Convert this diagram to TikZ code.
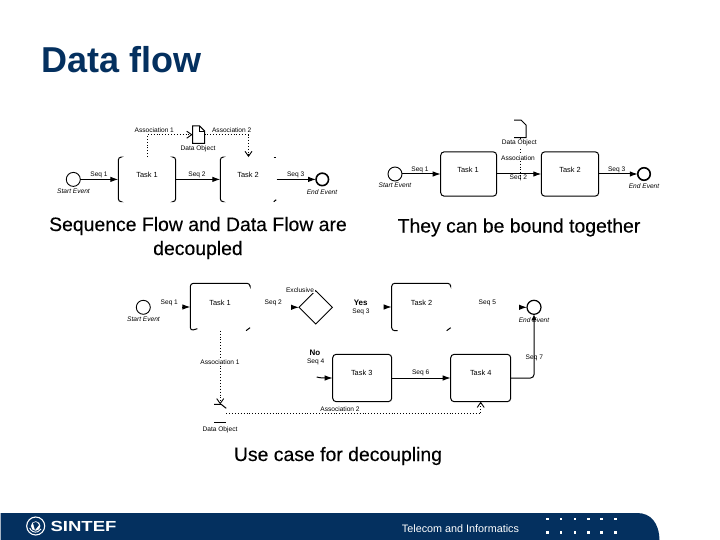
\documentclass[tikz,border=0pt]{standalone}
\usepackage{fontspec}
\setmainfont{Liberation Sans}
\newfontfamily\headfont[FakeBold=0.25]{Liberation Sans}
\usetikzlibrary{arrows.meta,shapes.geometric,calc}
\definecolor{navy}{HTML}{04305F}
\tikzset{
  x=1pt,y=-1pt,
  lbl/.style={inner sep=0,outer sep=0,text=black,font=\fontsize{6.6}{7}\selectfont},
  tasklbl/.style={lbl,font=\fontsize{7.4}{8}\selectfont},
  evlbl/.style={lbl,font=\fontsize{6.6}{7}\selectfont\itshape},
  boldlbl/.style={lbl,font=\fontsize{8}{9}\selectfont\bfseries},
  head/.style={inner sep=0,outer sep=0,text=black,align=center,font=\headfont\fontsize{19.4}{24}\selectfont},
  seqflow/.style={draw=black,line width=1pt,-{Latex[length=8pt,width=5.5pt]}},
  assoc/.style={draw=black,line width=0.9pt,dotted,-{Straight Barb[length=5pt,width=7pt,sep=0pt]}},
  assocplain/.style={draw=black,line width=0.9pt,dotted},
  edgeline/.style={draw=black,line width=1pt,rounded corners=3pt},
  taskfull/.style={draw=black,line width=1pt,rounded corners=3.5pt,inner sep=0,outer sep=0},
  taskghost/.style={inner sep=0,outer sep=0},
  startev/.style={circle,draw=black,line width=0.9pt,minimum size=14pt,inner sep=0,outer sep=0},
  endev/.style={circle,draw=black,line width=1.6pt,minimum size=12.5pt,inner sep=0,outer sep=0},
  dataghost/.style={inner sep=0,outer sep=0,minimum width=12pt,minimum height=17.5pt},
  dot/.style={fill=white,minimum size=2.6pt,inner sep=0,outer sep=0},
}
\begin{document}
\begin{tikzpicture}
\useasboundingbox (0,0) rectangle (720,540);
\fill[white] (0,0) rectangle (720,540);

% Title
\node[inner sep=0,anchor=west,text=navy,font=\fontsize{36}{40}\selectfont\bfseries] (title) at (41,60) {Data flow};

% ---------- Diagram 1 ----------
\node[startev] (as) at (73.3,179.4) {};
\node[taskghost,minimum width=57.4pt,minimum height=44.7pt] (at1) at (147,179.4) {};
\node[taskghost,minimum width=56.4pt,minimum height=44.7pt] (at2) at (248.5,179.4) {};
\node[endev] (ae) at (322.3,179.4) {};
\node[dataghost] (ad) at (198.5,134.7) {};
\draw[edgeline] ([xshift=2.5pt]at1.north west) -- (at1.north west) -- (at1.south west) -- ([xshift=2.5pt]at1.south west);
\draw[edgeline] ([xshift=-2.5pt]at1.north east) -- (at1.north east) -- (at1.south east) -- ([xshift=-2.5pt]at1.south east);
\draw[edgeline] ([xshift=2.5pt]at2.north west) -- (at2.north west) -- (at2.south west) -- ([xshift=2.5pt]at2.south west);
\draw[edgeline] ([xshift=-3pt]at2.north east) -- ([xshift=-.5pt]at2.north east);
\draw[edgeline] ([xshift=-3pt]at2.south east) -- ([xshift=-.5pt,yshift=2pt]at2.south east);
\draw[black,line width=1pt] (ad.north west) -- ([xshift=7pt]ad.north west) -- ([yshift=-5pt]ad.north east) -- (ad.south east) -- (ad.south west) -- cycle;
\draw[black,line width=0.5pt] ([xshift=7pt]ad.north west) -- ([xshift=7pt,yshift=-5pt]ad.north west) -- ([yshift=-5pt]ad.north east);
\draw[seqflow] (as) -- (at1.west);
\draw[seqflow] (at1.east) -- (at2.west);
\draw[seqflow] (at2.east) -- (ae);
\draw[assoc] (at1.north) |- (ad.west);
\draw[assoc] (ad.east) -| (at2.north);
\node[lbl] (al1) at (154.3,130.3) {Association 1};
\node[lbl] (al2) at (231.7,130.3) {Association 2};
\node[lbl] (al3) at (198,148.3) {Data Object};
\node[lbl] (al4) at (99,175) {Seq 1};
\node[tasklbl] (al5) at (147,174.5) {Task 1};
\node[lbl] (al6) at (197,175) {Seq 2};
\node[tasklbl] (al7) at (248,174.5) {Task 2};
\node[lbl] (al8) at (295.7,175) {Seq 3};
\node[evlbl] (al9) at (73.5,191.7) {Start Event};
\node[evlbl] (al10) at (322,191.7) {End Event};
\node[head] (ah) at (198,238) {Sequence Flow and Data Flow are\\decoupled};

% ---------- Diagram 2 ----------
\node[startev] (bs) at (395,174) {};
\node[taskfull,minimum width=56pt,minimum height=44.3pt] (bt1) at (468.7,174) {};
\node[taskfull,minimum width=57.4pt,minimum height=44.3pt] (bt2) at (570,174) {};
\node[endev] (be) at (644,174) {};
\node[dataghost] (bd) at (520,128.8) {};
\draw[black,line width=1pt] (bd.north west) -- ([xshift=7pt]bd.north west) -- ([yshift=-5pt]bd.north east) -- (bd.south east) -- (bd.south west);
\draw[seqflow] (bs) -- (bt1.west);
\draw[seqflow] (bt1.east) -- (bt2.west);
\draw[seqflow] (bt2.east) -- (be);
\coordinate (bc) at (520,180);
\draw[assocplain] (bd.south) -- (bc);
\node[lbl,fill=white,inner sep=.6pt] (bl1) at (519.3,143) {Data Object};
\node[lbl,fill=white,inner sep=.6pt] (bl2) at (518,157.7) {Association};
\node[lbl] (bl3) at (518.3,177.7) {Seq 2};
\node[lbl] (bl4) at (420,170) {Seq 1};
\node[tasklbl] (bl5) at (468,170) {Task 1};
\node[tasklbl] (bl6) at (570,170) {Task 2};
\node[lbl] (bl7) at (616.7,170) {Seq 3};
\node[evlbl] (bl8) at (395,185.7) {Start Event};
\node[evlbl] (bl9) at (644,185.7) {End Event};
\node[head] (bh) at (519,227.5) {They can be bound together};

% ---------- Diagram 3 ----------
\node[startev] (cs) at (143.3,307.3) {};
\node[taskghost,minimum width=59.7pt,minimum height=47.4pt] (ct1) at (220.2,307) {};
\node[diamond,draw=black,line width=0.9pt,aspect=1,minimum width=33.4pt,minimum height=33.4pt,inner sep=0,outer sep=0] (cx) at (315.7,307.3) {};
\node[taskghost,minimum width=59pt,minimum height=47.4pt] (ct2) at (421.2,307) {};
\node[endev,line width=1.2pt,minimum size=14pt] (ce) at (534,307.3) {};
\node[taskfull,minimum width=59pt,minimum height=47.4pt] (ct3) at (362.2,378) {};
\node[taskfull,minimum width=60pt,minimum height=47.4pt] (ct4) at (480.7,378) {};
\node[taskghost,minimum width=12pt,minimum height=17.7pt] (cd) at (220.2,413.2) {};

\draw[edgeline] ([xshift=7pt,yshift=2pt]ct1.south west) -- ([xshift=0pt]ct1.south west) -- (ct1.north west) -- (ct1.north east) -- ([yshift=-2pt]ct1.north east);
\draw[edgeline] ([xshift=-4pt]ct1.south east) -- ([yshift=3pt]ct1.south east);
\draw[edgeline] ([xshift=6pt]ct2.south west) -- (ct2.south west) -- (ct2.north west) -- (ct2.north east) -- ([yshift=-2pt]ct2.north east);
\draw[edgeline] ([xshift=-4pt]ct2.south east) -- ([yshift=3pt]ct2.south east);

\coordinate (cs1) at ($(ct1.west)+(-8,0)$);
\coordinate (cs2) at ($(cx.west)+(-8,0)$);
\coordinate (cs3) at ($(ct2.west)+(-8,0)$);
\coordinate (cs5) at ($(ce.west)+(-8,0)$);
\coordinate (cs4) at ($(ct3.west)+(-16,-1)$);
\draw[seqflow] (cs1) -- (ct1.west);
\draw[seqflow] (cs2) -- (cx.west);
\draw[seqflow] (cs3) -- (ct2.west);
\draw[seqflow] (cs5) -- (ce.west);
\draw[seqflow] (cs4) .. controls ($(cs4)+(4,1)$) and ($(cs4)+(6,1)$) .. (ct3.west);
\draw[seqflow] (ct3.east) -- (ct4.west);
\draw[draw=black,line width=1pt,rounded corners=3.5pt,-{Latex[length=6pt,width=5.5pt]}] (ct4.east) -| (ce.south);

% data object, bottom
\draw[black,line width=1pt] (cd.north west) -- ([xshift=7pt]cd.north west) -- ([yshift=-4pt]cd.north east);
\draw[black,line width=1pt] (cd.south west) -- (cd.south east);
\draw[assoc] (ct1.south) -- (cd.north);
\coordinate (cdr) at ($(cd.east)+(0,0)$);
\draw[assoc] (cdr) -| (ct4.south);

\node[lbl] (cl1) at (169.3,303.3) {Seq 1};
\node[tasklbl] (cl2) at (220,302.7) {Task 1};
\node[lbl] (cl3) at (273.3,303) {Seq 2};
\node[lbl,fill=white,inner sep=.6pt] (cl4) at (300,290) {Exclusive};
\node[boldlbl] (cl5) at (360.7,303) {Yes};
\node[lbl] (cl6) at (361,311.7) {Seq 3};
\node[tasklbl] (cl7) at (421.5,302.7) {Task 2};
\node[lbl] (cl8) at (487.3,303) {Seq 5};
\node[evlbl] (cl9) at (534,320) {End Event};
\node[evlbl] (cl10) at (143.5,319.5) {Start Event};
\node[lbl,fill=white,inner sep=.6pt] (cl11) at (220,361.7) {Association 1};
\node[boldlbl] (cl12) at (315,352.3) {No};
\node[lbl] (cl13) at (315.7,362) {Seq 4};
\node[tasklbl] (cl14) at (361.7,372.7) {Task 3};
\node[lbl] (cl15) at (420.7,373.3) {Seq 6};
\node[tasklbl] (cl16) at (480.7,372.7) {Task 4};
\node[lbl] (cl17) at (534.3,357.7) {Seq 7};
\node[lbl] (cl18) at (340,409.5) {Association 2};
\node[lbl] (cl19) at (220,430) {Data Object};
\node[head] (ch) at (338,456) {Use case for decoupling};

% ---------- Footer ----------
\fill[navy] (0.5,513) -- (637,513) .. controls (651,513) and (659,523) .. (659.5,540) -- (0.5,540) -- cycle;
\node[circle,draw=white,line width=1.1pt,minimum size=18pt,inner sep=0] (logo) at (35.7,526) {};
\draw[white,line width=0.9pt] (logo.center) ++(-6,2) arc[start angle=200,end angle=330,radius=6.3pt];
\node[circle,fill=white,minimum size=9.5pt,inner sep=0] (logoc) at (logo.center) {};
\fill[navy] (33,523) .. controls (36,521) and (39,523) .. (39,525) .. controls (37,526) and (37,529) .. (35,530) .. controls (33,528) and (35,525) .. (33,523) -- cycle;
\node[inner sep=0,text=white,font=\fontsize{14.6}{16}\selectfont\bfseries] (sintef) at (83.5,526) {\scalebox{1.27}[1]{SINTEF}};
\node[inner sep=0,text=white,font=\fontsize{10.8}{12}\selectfont] (tele) at (460.5,528.5) {Telecom and Informatics};
\foreach \i/\px in {1/547.3,2/561,3/575,4/588.3,5/601.7,6/615.3}{
  \node[dot] (dt\i) at (\px,519) {};
  \node[dot] (db\i) at (\px,532.7) {};
}
\end{tikzpicture}
\end{document}
